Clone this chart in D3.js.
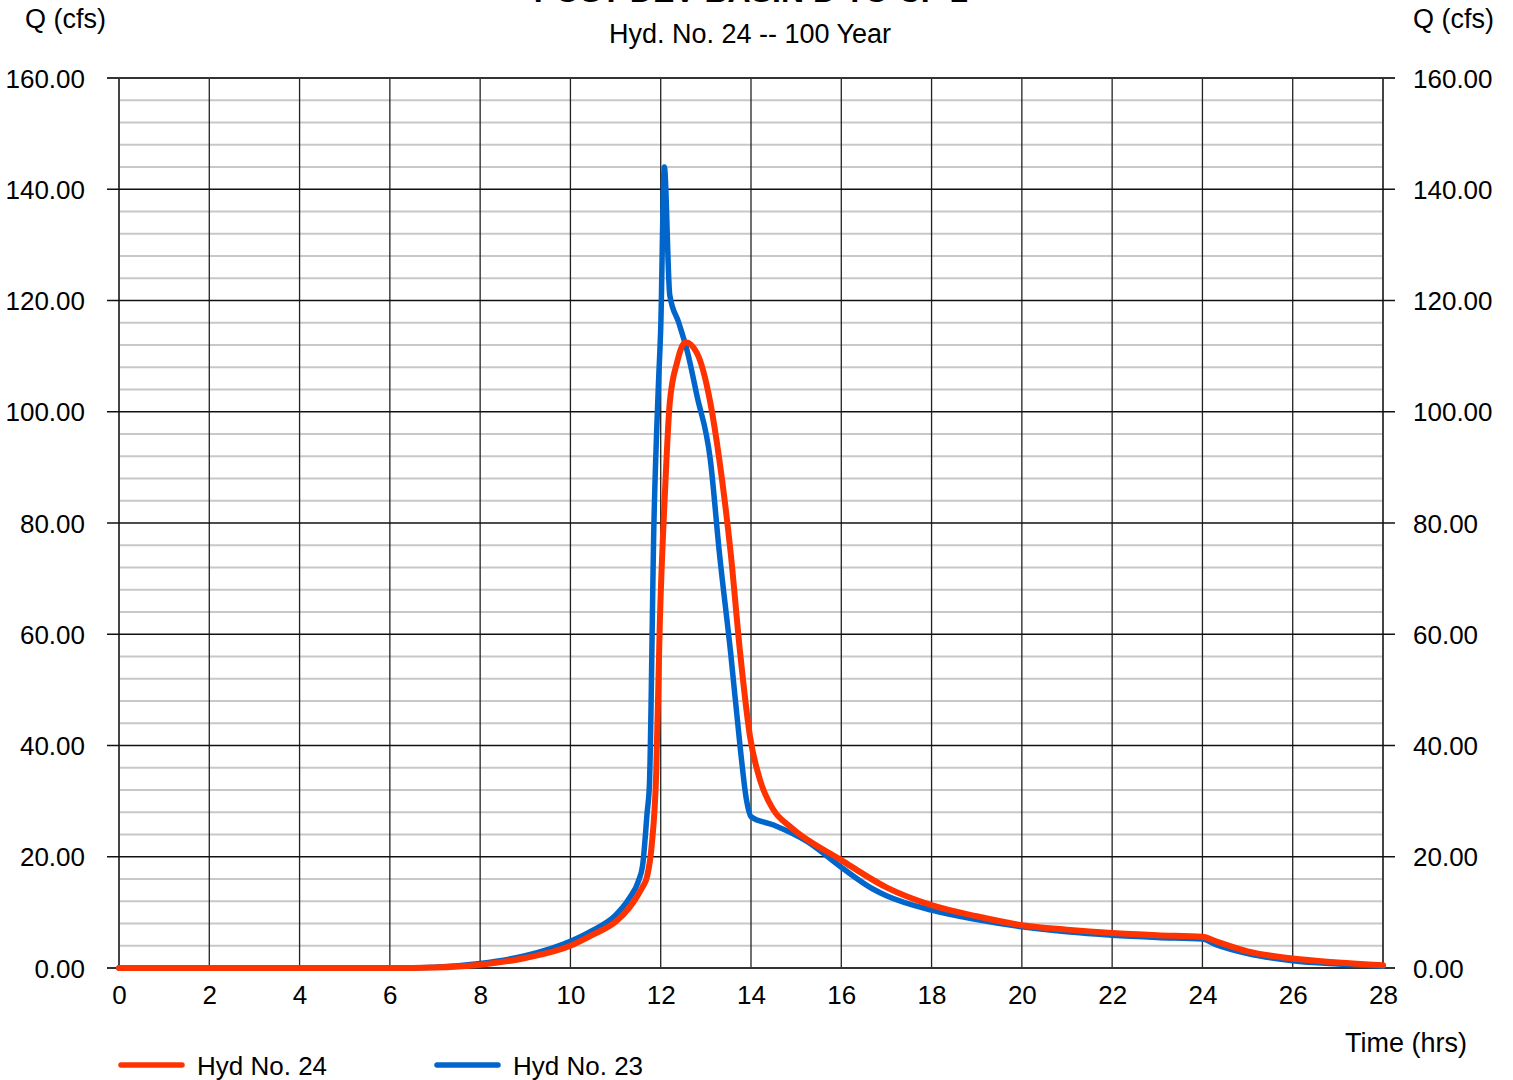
<!DOCTYPE html>
<html>
<head>
<meta charset="utf-8">
<script src="https://cdn.jsdelivr.net/npm/d3@7"></script>
<style>
  body { margin: 0; background: #fff; }
  svg { display: block; font-family: "Liberation Sans", Arial, sans-serif; }
  .tick text { fill: #000; }
</style>
</head>
<body>
<div class="chart"></div>
<script>
// Hydrograph data (time in hrs, flow in cfs)
var hyd24Time = [0, 2, 4, 6, 7, 8, 9, 10, 10.5, 11, 11.3, 11.5, 11.6, 11.7, 11.8, 11.9, 11.98, 12.1, 12.2, 12.36, 12.55, 12.8, 13.1, 13.3, 13.55, 13.76, 13.98, 14.2, 14.5, 14.87, 16, 17, 18, 19, 20, 21, 22, 23, 24, 24.3, 25, 26, 27, 28];
var hyd24Q    = [0, 0, 0, 0, 0.1, 0.6, 1.8, 4.0, 6.0, 8.3, 10.8, 13.2, 14.6, 16.5, 22, 35, 62, 86.5, 101.6, 108.8, 112.5, 110.6, 101.6, 91.3, 74.6, 56.6, 41.5, 33.8, 28.4, 25.4, 19.4, 14.5, 11.3, 9.3, 7.7, 6.9, 6.3, 5.9, 5.6, 4.8, 3.0, 1.7, 1.0, 0.5];

var hyd23Time = [0, 2, 4, 6, 7, 8, 9, 10, 10.5, 11, 11.3, 11.5, 11.6, 11.7, 11.75, 11.85, 11.95, 12.0, 12.08, 12.2, 12.4, 12.6, 12.8, 13.1, 13.3, 13.55, 13.76, 13.9, 14.0, 14.5, 15.25, 16, 16.7, 17, 18, 19, 20, 21, 22, 23, 24, 24.3, 25, 26, 27, 28];
var hyd23Q    = [0, 0, 0, 0, 0.15, 0.8, 2.2, 4.8, 6.8, 9.5, 12.5, 15.5, 18.5, 28, 33, 80, 105, 115, 144, 121, 116, 110.5, 103, 91.3, 74.6, 56.6, 39.7, 30.2, 27.2, 25.7, 22.7, 18.1, 14.2, 13.0, 10.4, 8.7, 7.4, 6.5, 5.9, 5.5, 5.2, 4.2, 2.6, 1.3, 0.7, 0.3];

var xTicks = [0, 2, 4, 6, 8, 10, 12, 14, 16, 18, 20, 22, 24, 26, 28];
var yTicks = [0, 20, 40, 60, 80, 100, 120, 140, 160];

var totalWidth = 1513, totalHeight = 1080;
var margin = {top: 78, left: 119, right: 130, bottom: 112};
var width = totalWidth - margin.left - margin.right,
    height = totalHeight - margin.top - margin.bottom;

var x = d3.scaleLinear().domain([0, 28]).range([0, width]);
var y = d3.scaleLinear().domain([0, 160]).range([height, 0]);

var svg = d3.select(".chart").append("svg")
    .attr("width", totalWidth)
    .attr("height", totalHeight);

var g = svg.append("g")
    .attr("transform", "translate(" + margin.left + "," + margin.top + ")");

// minor horizontal grid (every 4 cfs)
var minor = d3.range(4, 160, 4).filter(function(d) { return d % 20 !== 0; });
g.append("g").selectAll("line").data(minor).enter().append("line")
    .attr("x1", 0).attr("x2", width)
    .attr("y1", function(d) { return y(d); })
    .attr("y2", function(d) { return y(d); })
    .attr("stroke", "#c8c8c8").attr("stroke-width", 2);

// vertical grid
g.append("g").selectAll("line").data(xTicks).enter().append("line")
    .attr("x1", function(d) { return x(d); })
    .attr("x2", function(d) { return x(d); })
    .attr("y1", 0).attr("y2", height)
    .attr("stroke", function(d) { return (d === 0 || d === 28) ? "#444" : "#222"; })
    .attr("stroke-width", function(d) { return (d === 0 || d === 28) ? 2 : 1.3; });

// major horizontal lines, extended as tick marks on both sides
g.append("g").selectAll("line").data(yTicks).enter().append("line")
    .attr("x1", -12).attr("x2", width + 12)
    .attr("y1", function(d) { return y(d); })
    .attr("y2", function(d) { return y(d); })
    .attr("stroke", function(d) { return (d === 0 || d === 160) ? "#333" : "#111"; })
    .attr("stroke-width", function(d) { return (d === 0 || d === 160) ? 2 : 1.3; });

// left axis labels
var yLeft = g.append("g")
    .call(d3.axisLeft(y).tickValues(yTicks).tickSize(0).tickPadding(34).tickFormat(d3.format(".2f")));
yLeft.select(".domain").remove();
yLeft.selectAll("text").style("font-size", "26px").attr("dy", "0.35em");

// right axis labels
var yRight = g.append("g")
    .attr("transform", "translate(" + width + ",0)")
    .call(d3.axisRight(y).tickValues(yTicks).tickSize(0).tickPadding(30).tickFormat(d3.format(".2f")));
yRight.select(".domain").remove();
yRight.selectAll("text").style("font-size", "26px").attr("dy", "0.35em");

// bottom axis labels
var xAxis = g.append("g")
    .attr("transform", "translate(0," + height + ")")
    .call(d3.axisBottom(x).tickValues(xTicks).tickSize(0).tickPadding(18));
xAxis.select(".domain").remove();
xAxis.selectAll("text").style("font-size", "26px");

// lines
var line = d3.line()
    .x(function(d) { return x(d[0]); })
    .y(function(d) { return y(d[1]); })
    .curve(d3.curveMonotoneX);

g.append("path")
    .datum(d3.zip(hyd23Time, hyd23Q))
    .attr("fill", "none")
    .attr("stroke", "#0066cc")
    .attr("stroke-width", 5.5)
    .attr("stroke-linejoin", "round")
    .attr("stroke-linecap", "round")
    .attr("d", line);

g.append("path")
    .datum(d3.zip(hyd24Time, hyd24Q))
    .attr("fill", "none")
    .attr("stroke", "#ff3300")
    .attr("stroke-width", 6)
    .attr("stroke-linejoin", "round")
    .attr("stroke-linecap", "round")
    .attr("d", line);

// titles
svg.append("text")
    .attr("x", 751).attr("y", 2)
    .attr("text-anchor", "middle")
    .style("font-size", "32px").style("font-weight", "bold")
    .text("POST DEV BASIN D TO CP 2");

svg.append("text")
    .attr("x", 750).attr("y", 43)
    .attr("text-anchor", "middle")
    .style("font-size", "27px")
    .text("Hyd. No. 24 -- 100 Year");

svg.append("text")
    .attr("x", 25).attr("y", 28)
    .style("font-size", "27px")
    .text("Q (cfs)");

svg.append("text")
    .attr("x", 1494).attr("y", 28)
    .attr("text-anchor", "end")
    .style("font-size", "27px")
    .text("Q (cfs)");

svg.append("text")
    .attr("x", 1467).attr("y", 1052)
    .attr("text-anchor", "end")
    .style("font-size", "27px")
    .text("Time (hrs)");

// legend
var legend = [
  {name: "Hyd No. 24", color: "#ff3300", x: 119},
  {name: "Hyd No. 23", color: "#0066cc", x: 435}
];
var lg = svg.append("g").selectAll("g").data(legend).enter().append("g")
    .attr("transform", function(d) { return "translate(" + d.x + ",1065)"; });
lg.append("line")
    .attr("x1", 2).attr("x2", 63)
    .attr("stroke", function(d) { return d.color; })
    .attr("stroke-width", 5.5)
    .attr("stroke-linecap", "round");
lg.append("text")
    .attr("x", 78).attr("y", 10)
    .style("font-size", "26px")
    .text(function(d) { return d.name; });
</script>
</body>
</html>
